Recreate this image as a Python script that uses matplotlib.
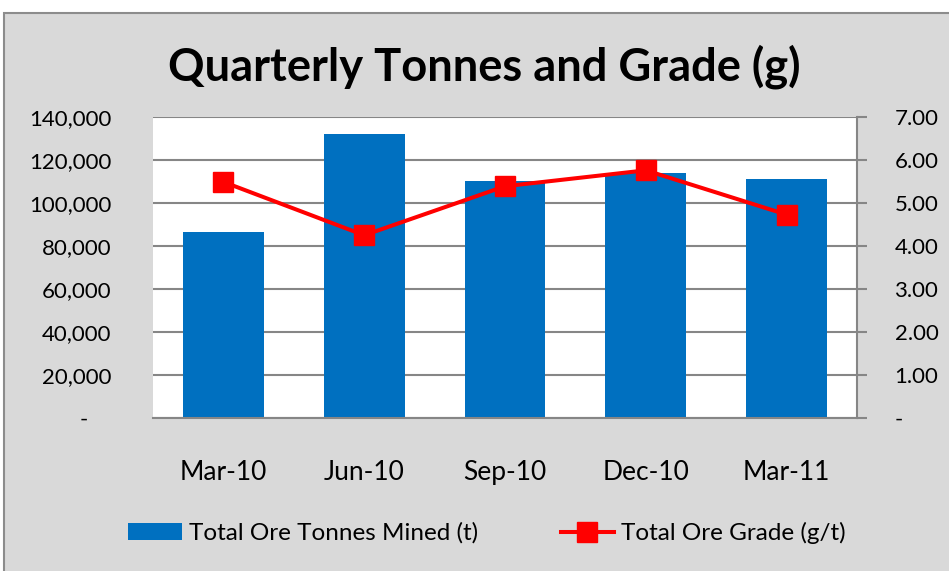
import matplotlib.pyplot as plt
from matplotlib.patches import Rectangle
from matplotlib.ticker import FuncFormatter, MultipleLocator
import numpy as np

plt.rcParams["font.family"] = ["Lato", "DejaVu Sans"]

quarters = ["Mar-10", "Jun-10", "Sep-10", "Dec-10", "Mar-11"]
tonnes_mined = [86300, 131900, 110300, 113900, 111100]
ore_grade = [5.49, 4.25, 5.39, 5.76, 4.73]

bar_color = "#0070c0"
line_color = "#ff0000"
grid_color = "#868686"

fig = plt.figure(figsize=(9.49, 5.71), dpi=100, facecolor="white")

# chart area background with grey border
fig.patches.append(Rectangle((4 / 949, -0.05), 1.0, 1 - 13 / 571 + 0.05,
                             transform=fig.transFigure, facecolor="#d9d9d9",
                             edgecolor="#8c8c8c", linewidth=1.5, zorder=-5))

ax = fig.add_axes([153 / 949, 1 - 418 / 571, 704 / 949, 301 / 571])
ax.set_facecolor("white")
x = np.arange(len(quarters))
ax.bar(x, tonnes_mined, width=0.573, color=bar_color, zorder=2,
       label="Total Ore Tonnes Mined (t)")
ax.set_xlim(-0.5, len(quarters) - 0.5)
ax.set_ylim(0, 140000)
ax.yaxis.set_major_locator(MultipleLocator(20000))
ax.yaxis.set_major_formatter(FuncFormatter(
    lambda v, p: "-    " if v == 0 else f"{int(v):,}"))
ax.grid(axis="y", color=grid_color, linewidth=1.5, zorder=1)
ax.set_axisbelow(True)
ax.tick_params(axis="y", length=0, pad=30, labelsize=16, colors="black")
ax.set_xticks(x)
ax.set_xticklabels(quarters)
ax.tick_params(axis="x", length=0, pad=30, labelsize=19)
for side in ["left", "top", "right"]:
    ax.spines[side].set_visible(False)
ax.spines["bottom"].set_color(grid_color)
ax.spines["bottom"].set_linewidth(1.5)

ax2 = ax.twinx()
ax2.plot(x, ore_grade, color=line_color, linewidth=2.9, marker="s",
         markersize=14.5, zorder=3, label="Total Ore Grade (g/t)")
ax2.set_ylim(0, 7)
ax2.yaxis.set_major_locator(MultipleLocator(1))
ax2.yaxis.set_major_formatter(FuncFormatter(
    lambda v, p: "-" if v == 0 else f"{v:.2f}"))
ax2.tick_params(axis="y", length=7, width=1.5, color=grid_color, pad=20,
                labelsize=16)
for side in ["left", "top", "bottom"]:
    ax2.spines[side].set_visible(False)
ax2.spines["right"].set_color(grid_color)
ax2.spines["right"].set_linewidth(1.5)

fig.text(484 / 949, 1 - 67 / 571, "Quarterly Tonnes and Grade (g)", ha="center",
         va="center", fontsize=32.6, fontweight="bold")

handles = [ax.containers[0], ax2.lines[0]]
labels = ["Total Ore Tonnes Mined (t)", "Total Ore Grade (g/t)"]
fig.legend(handles, labels, loc="center", bbox_to_anchor=(487 / 949, 1 - 533 / 571),
           ncol=2, frameon=False, fontsize=17.5, columnspacing=3.4,
           handlelength=2.2, handletextpad=0.3)

fig.savefig("out.png", dpi=100, facecolor=fig.get_facecolor())
